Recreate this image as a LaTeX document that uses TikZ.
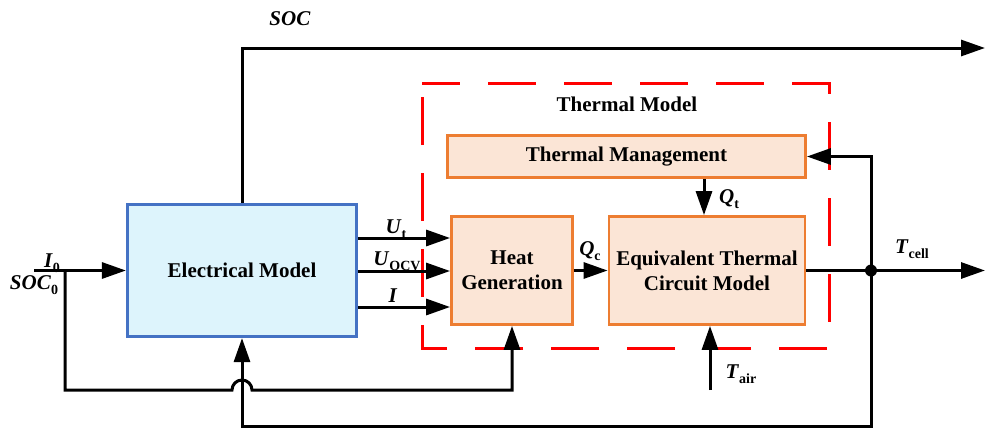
\documentclass[tikz,border=0pt]{standalone}
\usepackage{fontspec}
\setmainfont{Liberation Serif}
\usetikzlibrary{arrows.meta}
\definecolor{emborder}{HTML}{4472C4}
\definecolor{emfill}{HTML}{DDF4FC}
\definecolor{thborder}{HTML}{ED7D31}
\definecolor{thfill}{HTML}{FBE5D6}
\definecolor{dashred}{HTML}{FF0000}
\newcommand{\vlab}[2]{\textbf{\textit{#1}}\raisebox{-0.28em}{\fontsize{14}{14}\selectfont\bfseries #2}}
\begin{document}
\begin{tikzpicture}[x=1pt,y=-1pt,
  txt/.style={font=\fontsize{21}{25}\selectfont\bfseries, align=center},
  lbl/.style={font=\fontsize{21}{25}\selectfont, anchor=base, inner sep=0pt},
  embox/.style={draw=emborder, fill=emfill, line width=3.2pt, inner sep=0pt, txt},
  thbox/.style={draw=thborder, fill=thfill, line width=2.8pt, inner sep=0pt, txt},
  wire/.style={line width=3pt, black},
  arr/.style={wire, -{Triangle[length=24pt,width=16pt]}},
]
\useasboundingbox (0,0) rectangle (988,429);

% thermal model dashed frame
\draw[dashred, line width=3pt, dash pattern=on 48pt off 28pt, dash phase=10pt]
  (422,83) -- (829,83) -- (829,348) -- (422,348) -- cycle;
\node[txt] (tmlabel) at (627,104) {Thermal Model};

% blocks
\node[embox, minimum width=229pt, minimum height=132pt] (em) at (242,270.5) {Electrical Model};
\node[thbox, minimum width=121pt, minimum height=108pt] (hg) at (512,270.5) {Heat\\Generation};
\node[thbox, minimum width=196pt, minimum height=108pt] (etcm) at (707,270.5) {Equivalent Thermal\\Circuit Model};
\node[thbox, minimum width=358pt, minimum height=42pt] (tm) at (626.5,156.5) {Thermal Management};

% helper coordinates
\coordinate (socout) at (985,48);
\coordinate (inL) at (34,270.5);
\coordinate (j1) at (65,270.5);
\coordinate (jc) at (871,270.5);
\coordinate (tout) at (985,270.5);
\coordinate (b1) at (871,426);
\coordinate (l1) at (65,390);
\coordinate (hopL) at (232,390);
\coordinate (hopR) at (252,390);
\coordinate (tair) at (710,390);
\coordinate (yUt) at (0,238);
\coordinate (yUo) at (0,271);
\coordinate (yI) at (0,307);
\coordinate (xQt) at (704,0);

% SOC output
\draw[arr] (em.north) |- (socout);
\node[lbl] (soclab) at (290,25) {\textbf{\textit{SOC}}};

% input
\draw[arr] (inL) -- (em.west);
\node[lbl] (i0lab) at (52,267) {\vlab{I}{0}};
\node[lbl] (soc0lab) at (34,289) {\vlab{SOC}{0}};

% electrical -> heat generation
\draw[arr] (em.east |- yUt) -- (hg.west |- yUt);
\draw[arr] (em.east |- yUo) -- (hg.west |- yUo);
\draw[arr] (em.east |- yI) -- (hg.west |- yI);
\node[lbl] (utlab) at (396,233) {\vlab{U}{t}};
\node[lbl] (uolab) at (397,265) {\vlab{U}{OCV}};
\node[lbl] (ilab) at (393,302) {\textbf{\textit{I}}};

% heat generation -> ETCM
\draw[arr] (hg.east) -- (etcm.west);
\node[lbl] (qclab) at (590,255) {\vlab{Q}{c}};

% thermal management -> ETCM
\draw[arr] (tm.south -| xQt) -- (etcm.north -| xQt);
\node[lbl] (qtlab) at (729,203) {\vlab{Q}{t}};

% ETCM output
\draw[arr] (etcm.east) -- (tout);
\fill (jc) circle (6pt);
\node[lbl] (tclab) at (912,253) {\vlab{T}{cell}};

% feedback to thermal management
\draw[arr] (jc) |- (tm.east);

% feedback to electrical model
\draw[arr] (jc) -- (b1) -| (em.south);

% SOC0 / I0 to heat generation with hop
\draw[arr] (j1) -- (l1) -- (hopL) arc[start angle=180, end angle=0, radius=10pt] -- (hg.south |- hopR) -- (hg.south);

% T_air
\draw[arr] (tair) -- (etcm.south -| tair);
\node[lbl] (tairlab) at (741,378) {\vlab{T}{air}};
\end{tikzpicture}
\end{document}
